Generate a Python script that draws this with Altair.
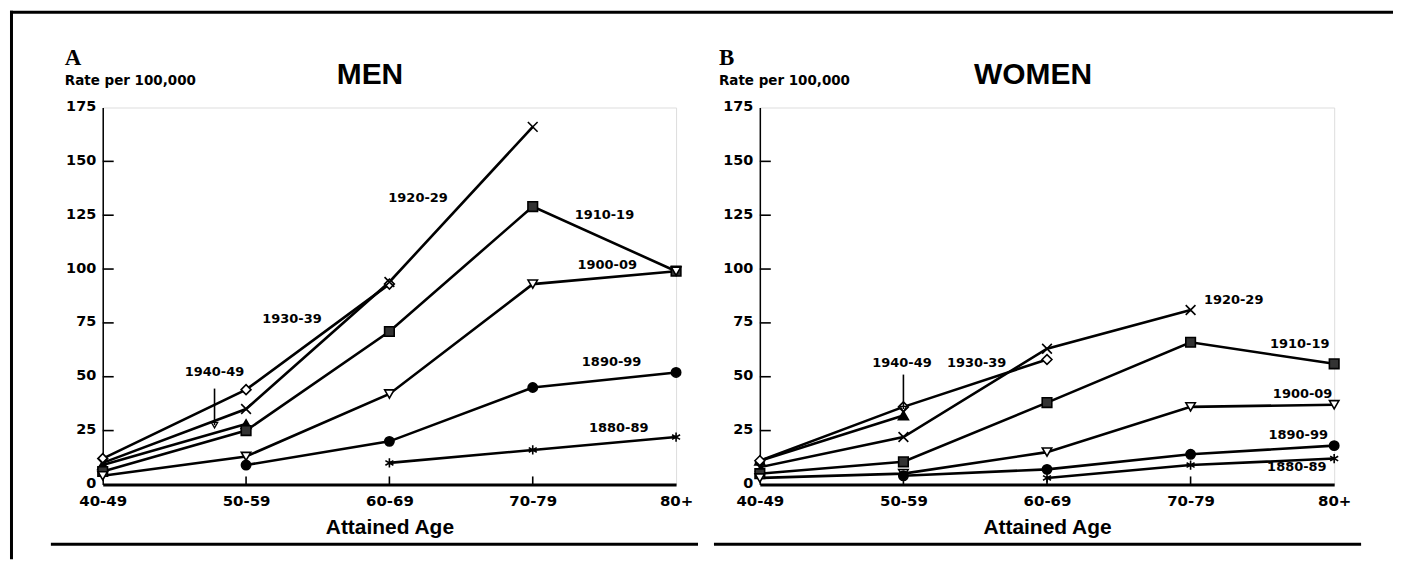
import altair as alt
import pandas as pd

# ---------------- data ----------------
ages = ["40-49", "50-59", "60-69", "70-79", "80+"]
cohorts = ["1940-49", "1930-39", "1920-29", "1910-19", "1900-09", "1890-99", "1880-89"]

men_1940 = [9, 28, None, None, None]
men_1930 = [12, 44, 93, None, None]
men_1920 = [10, 35, 94, 166, None]
men_1910 = [6, 25, 71, 129, 99]
men_1900 = [4, 13, 42, 93, 99]
men_1890 = [None, 9, 20, 45, 52]
men_1880 = [None, None, 10, 16, 22]

women_1940 = [11, 32, None, None, None]
women_1930 = [11, 36, 58, None, None]
women_1920 = [8, 22, 63, 81, None]
women_1910 = [5, 10.5, 38, 66, 56]
women_1900 = [3, 5, 15, 36, 37]
women_1890 = [None, 4, 7, 14, 18]
women_1880 = [None, None, 3, 9, 12]

men_series = [men_1940, men_1930, men_1920, men_1910, men_1900, men_1890, men_1880]
women_series = [women_1940, women_1930, women_1920, women_1910, women_1900, women_1890, women_1880]

# cohort label anchors (age index, rate)
men_label_x = [0.78, 1.32, 2.2, 3.5, 3.52, 3.55, 3.6]
men_label_y = [52, 77, 133, 125, 102, 57, 26]
women_label_x = [0.99, 1.51, 3.3, 3.76, 3.78, 3.75, 3.74]
women_label_y = [56.5, 56.5, 85.6, 65, 42, 23, 8]

# arrow for 1940-49: (age index, top rate, tip rate)
men_arrow = [0.78, 44.5, 27.5]
women_arrow = [1.0, 51, 35]

y_ticks = [0, 25, 50, 75, 100, 125, 150, 175]

# ---------------- styles ----------------
X_PATH = "M-1,-1L1,1M-1,1L1,-1"
AST_PATH = "M0,-1L0,1M-0.87,-0.5L0.87,0.5M-0.87,0.5L0.87,-0.5"
shape_range = ["triangle-up", "diamond", X_PATH, "square", "triangle-down", "circle", AST_PATH]
fill_range = ["black", "white", "transparent", "#333333", "white", "black", "transparent"]
size_range = [100, 85, 150, 55, 95, 170, 160]

LABEL_FONT = "DejaVu Sans"
label_expr = "[" + ",".join("'%s'" % a for a in ages) + "][datum.value]"


def long_df(series):
    rows = []
    for c, vals in zip(cohorts, series):
        for i, v in enumerate(vals):
            if v is not None:
                rows.append({"cohort": c, "idx": i, "rate": v})
    return pd.DataFrame(rows)


def one():
    return pd.DataFrame({"a": [0]})


def panel(series, lab_x, lab_y, arrow, title, letter, width, title_x, letter_x, frame):
    H = 378
    d = long_df(series)
    xs = alt.X("idx:Q",
               scale=alt.Scale(domain=[0, 4], nice=False, zero=False),
               axis=alt.Axis(values=[0, 1, 2, 3, 4], labelExpr=label_expr, tickSize=0,
                             domainColor="black", domainWidth=3, grid=False,
                             labelFont=LABEL_FONT, labelFontWeight="bold", labelFontSize=15,
                             labelColor="black", labelPadding=9, labelFlush=False,
                             labelOverlap=False,
                             title="Attained Age", titleFont="Liberation Sans",
                             titleFontSize=21, titleFontWeight="bold", titleColor="black",
                             titlePadding=8))
    ys = alt.Y("rate:Q",
               scale=alt.Scale(domain=[0, 175], nice=False),
               axis=alt.Axis(values=y_ticks, tickSize=0, domainColor="black", domainWidth=1.5,
                             grid=False, labelFont=LABEL_FONT, labelFontWeight="bold",
                             labelFontSize=14.5, labelColor="black", labelPadding=7,
                             labelOffset=-1, title=None))
    base = alt.Chart(d)
    lines = base.mark_line(color="black", strokeWidth=2.6).encode(x=xs, y=ys, detail="cohort:N")
    pts = base.mark_point(filled=True, stroke="black", strokeWidth=1.6, opacity=1).encode(
        x="idx:Q", y="rate:Q",
        shape=alt.Shape("cohort:N", scale=alt.Scale(domain=cohorts, range=shape_range), legend=None),
        fill=alt.Fill("cohort:N", scale=alt.Scale(domain=cohorts, range=fill_range), legend=None),
        size=alt.Size("cohort:N", scale=alt.Scale(domain=cohorts, range=size_range), legend=None),
    )
    lab_df = pd.DataFrame({"cohort": cohorts, "idx": lab_x, "rate": lab_y})
    labels = alt.Chart(lab_df).mark_text(font=LABEL_FONT, fontWeight="bold", fontSize=13,
                                          color="black", align="center", baseline="middle").encode(
        x="idx:Q", y="rate:Q", text="cohort:N")

    arr_df = pd.DataFrame({"idx": [arrow[0]], "rate": [arrow[1]], "tip": [arrow[2]]})
    arr_line = alt.Chart(arr_df).mark_rule(color="black", strokeWidth=1.6).encode(
        x="idx:Q", y="rate:Q", y2="tip:Q")
    arr_head = alt.Chart(arr_df).mark_point(shape="triangle-down", filled=False, color="black",
                                            strokeWidth=1.3, size=40, opacity=1).encode(
        x="idx:Q", y="tip:Q")

    ytk = alt.Chart(pd.DataFrame({"rate": y_ticks[1:-1]})).mark_rule(color="black", strokeWidth=1.6).encode(
        y="rate:Q", x=alt.value(0), x2=alt.value(11))
    xtk = alt.Chart(pd.DataFrame({"idx": [1, 2, 3]})).mark_rule(color="black", strokeWidth=1.6).encode(
        x="idx:Q", y=alt.value(H), y2=alt.value(H - 8))

    t_title = alt.Chart(one()).mark_text(text=title, font="Liberation Sans", fontSize=30,
                                         fontWeight="bold", color="black", align="center",
                                         baseline="middle").encode(x=alt.value(title_x), y=alt.value(-33))
    t_letter = alt.Chart(one()).mark_text(text=letter, font="Liberation Serif", fontSize=23,
                                          fontWeight="bold", color="black", align="left",
                                          baseline="middle").encode(x=alt.value(letter_x), y=alt.value(-50))
    t_rate = alt.Chart(one()).mark_text(text="Rate per 100,000", font=LABEL_FONT, fontSize=13.5,
                                        fontWeight="bold", color="black", align="left",
                                        baseline="middle").encode(x=alt.value(letter_x), y=alt.value(-27))
    underline = alt.Chart(one()).mark_rule(color="black", strokeWidth=3).encode(
        x=alt.value(frame["ul_x1"]), x2=alt.value(frame["ul_x2"]), y=alt.value(H + 60))

    layers = [lines, pts, labels, arr_line, arr_head, ytk, xtk, t_title, t_letter, t_rate, underline]
    if frame.get("outer"):
        left_line = alt.Chart(one()).mark_rule(color="black", strokeWidth=3).encode(
            x=alt.value(-91.5), y=alt.value(-97), y2=alt.value(H + 75))
        top_line = alt.Chart(one()).mark_rule(color="black", strokeWidth=3).encode(
            x=alt.value(-93), x2=alt.value(1294), y=alt.value(-95.5))
        layers += [left_line, top_line]
    return alt.layer(*layers).properties(width=width, height=H)


left = panel(men_series, men_label_x, men_label_y, men_arrow, "MEN", "A", 575,
             268, -38, {"ul_x1": -52, "ul_x2": 597, "outer": True})
right = panel(women_series, women_label_x, women_label_y, women_arrow, "WOMEN", "B", 576,
              274, -41, {"ul_x1": -46, "ul_x2": 603})

chart = alt.hconcat(left, right, spacing=84, bounds="flush").properties(
    padding={"left": 0, "top": 0, "right": 0, "bottom": 0}
).configure_view(stroke="black", strokeWidth=1).configure(background="white")

chart.save("out.html", embed_options={"renderer": "svg", "actions": False})
